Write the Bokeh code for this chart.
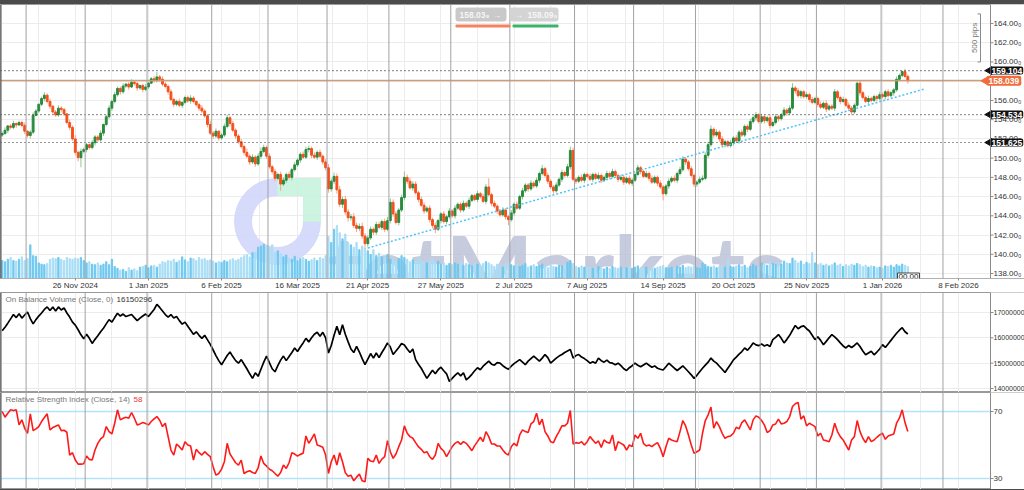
import numpy as np
from math import pi
from bokeh.plotting import figure
from bokeh.models import (ColumnDataSource, Range1d, FixedTicker, Span, Label,
                          BoxAnnotation, Spacer, Grid)
from bokeh.layouts import column
from bokeh.embed import file_html
from bokeh.resources import INLINE

# ---------------- data ----------------
start_date = "2024-10-21"          # first daily bar (business days only)
first_open = 152.40

closes = [
    152.55, 152.90, 153.35, 153.20, 153.60, 153.45, 153.70, 153.40, 152.80, 152.35,
    152.70, 154.45, 154.90, 155.60, 156.20, 156.55, 155.90, 155.40, 154.80, 154.50,
    155.20, 155.05, 154.60, 153.70, 153.20, 152.00, 150.60, 150.05, 150.70, 150.90,
    151.40, 151.10, 151.60, 152.20, 151.90, 152.60, 153.50, 154.30, 155.20, 155.90,
    156.60, 157.25, 156.90, 157.50, 157.70, 157.40, 157.90, 157.75, 157.30, 157.55,
    157.15, 157.40, 157.80, 158.25, 158.05, 158.45, 158.20, 157.70, 157.45, 156.90,
    156.10, 155.60, 155.90, 155.50, 155.80, 156.30, 155.95, 156.25, 155.90, 155.55,
    155.20, 154.90, 154.40, 153.50, 152.60, 152.30, 152.80, 152.10, 152.40, 153.30,
    154.20, 153.60, 152.90, 152.30, 151.70, 151.20, 150.60, 150.20, 149.60, 150.10,
    149.40, 150.20, 150.70, 151.10, 150.20, 149.10, 148.60, 147.90, 148.30, 147.30,
    147.70, 148.30, 148.00, 148.80, 149.30, 149.80, 150.40, 150.10, 150.90, 151.00,
    150.30, 150.10, 150.60, 150.20, 149.60, 149.00, 146.80, 147.60, 148.10, 146.70,
    145.20, 145.70, 144.40, 143.80, 143.90, 143.00, 142.70, 142.90, 141.90, 141.10,
    141.70, 142.60, 142.30, 143.10, 142.80, 143.40, 142.60, 143.50, 145.40, 144.20,
    143.30, 144.60, 145.90, 148.00, 147.60, 146.90, 147.30, 146.40, 145.70, 145.10,
    144.50, 144.80, 143.60, 143.00, 142.60, 143.50, 144.20, 143.40, 143.90, 144.50,
    144.00, 144.80, 145.20, 144.60, 145.30, 145.00, 145.60, 146.10, 145.70, 146.30,
    146.00, 145.50, 147.00, 146.20, 145.30, 145.00, 144.50, 144.10, 144.60, 143.90,
    143.60, 144.30, 145.20, 144.80, 146.00, 146.60, 147.20, 146.80, 147.40, 147.10,
    147.70, 148.40, 148.90, 148.20, 147.60, 147.00, 146.60, 147.20, 147.80, 148.50,
    148.20, 149.10, 150.80, 147.80, 147.60, 148.00, 147.70, 148.30, 148.10, 147.80,
    148.30, 147.90, 148.20, 147.70, 148.00, 148.40, 148.10, 148.60, 148.20, 147.80,
    148.00, 147.50, 147.90, 147.40, 147.70, 148.30, 149.00, 148.60, 148.10, 148.40,
    147.90, 147.50, 148.00, 147.40, 147.00, 146.30, 147.10, 147.60, 147.90, 147.70,
    148.40, 148.80, 149.90, 149.60, 148.90, 148.20, 147.30, 147.50, 147.80, 147.90,
    150.30, 151.40, 153.00, 152.40, 152.70, 152.00, 151.40, 151.70, 151.30, 151.60,
    152.10, 151.80, 152.70, 152.40, 153.30, 153.00, 153.80, 154.20, 154.50, 153.80,
    154.30, 153.90, 154.20, 153.40, 153.70, 154.30, 154.10, 154.50, 155.00, 154.70,
    155.20, 157.30, 157.00, 156.50, 156.90, 156.40, 156.60, 156.10, 155.80, 156.20,
    155.60, 155.30, 155.70, 155.10, 155.40, 155.20, 156.90, 156.30, 155.90, 156.10,
    155.50, 155.20, 154.80, 155.50, 157.80, 156.80, 156.30, 155.90, 156.20, 156.00,
    156.40, 156.20, 156.60, 156.40, 156.90, 156.50, 156.80, 157.10, 158.20, 158.60,
    159.00, 158.50, 158.04,
]

# upper / lower shadow lengths in tenths of a yen
wick_up = [
    2, 3, 1, 2, 3, 1, 2, 2, 3, 1,  2, 3, 2, 1, 2, 3, 2, 3, 1, 2,
    3, 2, 2, 1, 3, 2, 4, 2, 3, 2,  2, 1, 3, 2, 2, 3, 1, 2, 3, 2,
    3, 2, 2, 3, 1, 2, 3, 2, 2, 1,  2, 3, 1, 2, 3, 5, 2, 3, 2, 2,
    3, 2, 2, 3, 1, 2, 2, 3, 2, 1,  2, 3, 2, 2, 4, 2, 3, 1, 2, 3,
    3, 2, 3, 2, 2, 3, 2, 4, 2, 3,  2, 3, 4, 3, 2, 3, 2, 3, 2, 3,
    3, 2, 3, 2, 3, 2, 2, 3, 3, 3,  2, 3, 2, 3, 2, 3, 4, 3, 4, 3,
    4, 3, 4, 3, 3, 4, 3, 3, 4, 3,  3, 3, 2, 3, 3, 2, 3, 4, 4, 3,
    3, 2, 3, 6, 3, 4, 3, 3, 2, 3,  3, 2, 3, 2, 3, 2, 2, 3, 2, 3,
    2, 3, 2, 2, 3, 2, 3, 2, 2, 3,  2, 3, 3, 9, 2, 3, 2, 2, 3, 2,
    2, 3, 2, 3, 2, 3, 2, 2, 3, 2,  3, 2, 4, 2, 3, 2, 2, 3, 2, 3,
    2, 3, 4, 3, 2, 2, 3, 2, 2, 3,  2, 2, 3, 2, 2, 3, 2, 3, 2, 2,
    3, 2, 2, 3, 2, 2, 3, 2, 2, 3,  2, 3, 2, 2, 3, 2, 2, 3, 2, 3,
    2, 3, 3, 2, 2, 3, 2, 2, 3, 3,  3, 3, 4, 2, 3, 2, 3, 2, 2, 3,
    2, 3, 2, 3, 2, 2, 3, 2, 3, 2,  3, 2, 2, 3, 2, 3, 2, 2, 3, 2,
    3, 5, 2, 3, 2, 2, 3, 2, 3, 2,  2, 3, 2, 3, 2, 2, 3, 2, 2, 3,
    2, 3, 2, 2, 1, 3, 2, 2, 3, 2,  2, 2, 3, 2, 2, 3, 2, 2, 3, 2,
    1, 3, 2,
]
wick_dn = [
    2, 1, 3, 2, 2, 3, 1, 2, 3, 2,  3, 2, 1, 2, 2, 3, 2, 3, 2, 2,
    2, 3, 2, 2, 3, 2, 3, 4, 10, 2, 3, 2, 2, 3, 2, 2, 3, 2, 2, 3,
    2, 2, 3, 2, 2, 3, 1, 2, 3, 2,  3, 2, 2, 1, 2, 2, 3, 2, 2, 3,
    2, 3, 2, 2, 3, 2, 2, 3, 2, 2,  3, 2, 2, 3, 2, 3, 2, 3, 2, 2,
    2, 3, 2, 3, 2, 2, 3, 2, 3, 2,  3, 2, 3, 2, 3, 2, 3, 3, 2, 7,
    2, 3, 2, 3, 2, 2, 3, 2, 2, 3,  3, 2, 3, 2, 3, 3, 4, 3, 3, 4,
    3, 4, 3, 4, 3, 3, 4, 3, 3, 5,  3, 2, 3, 3, 2, 3, 3, 2, 3, 3,
    2, 3, 2, 3, 3, 2, 3, 2, 3, 2,  3, 2, 3, 3, 4, 2, 3, 2, 3, 2,
    2, 3, 2, 3, 2, 2, 3, 2, 2, 3,  2, 2, 3, 2, 3, 2, 3, 2, 2, 3,
    6, 2, 3, 2, 2, 3, 2, 3, 2, 2,  2, 3, 2, 2, 3, 2, 3, 2, 2, 3,
    2, 2, 3, 2, 3, 2, 2, 3, 2, 2,  3, 2, 2, 3, 2, 2, 3, 2, 2, 3,
    2, 3, 2, 2, 3, 2, 2, 3, 2, 2,  3, 2, 2, 3, 2, 7, 2, 3, 2, 2,
    3, 2, 2, 3, 2, 2, 3, 3, 2, 2,  2, 3, 2, 3, 2, 3, 2, 3, 2, 2,
    3, 2, 3, 2, 2, 3, 2, 2, 3, 2,  2, 3, 2, 3, 2, 2, 3, 2, 2, 3,
    2, 2, 3, 2, 3, 2, 2, 3, 2, 2,  3, 2, 2, 3, 2, 2, 3, 2, 3, 2,
    2, 3, 3, 2, 2, 3, 2, 2, 3, 2,  2, 3, 2, 2, 3, 2, 2, 3, 2, 2,
    2, 2, 3,
]

# tick volume, thousands
volume_k = [
    150, 140, 160, 175, 150, 145, 160, 180, 150, 165,
    280, 190, 185, 130, 120, 115, 125, 160, 170, 165,
    175, 160, 150, 175, 165, 160, 170, 165, 175, 150,
    130, 140, 120, 115, 130, 110, 120, 140, 115, 160,
    100, 85, 70, 75, 60, 90, 70, 80, 65, 95,
    100, 110, 90, 105, 110, 95, 120, 140, 135, 150,
    145, 160, 135, 150, 180, 155, 140, 170, 165, 150,
    175, 160, 165, 150, 155, 145, 130, 140, 135, 150,
    140, 155, 165, 150, 160, 175, 190, 200, 180, 215,
    220, 260, 270, 285, 270, 260, 280, 215, 230, 205,
    180, 195, 170, 160, 185, 150, 165, 175, 160, 145,
    155, 170, 150, 175, 165, 190, 350, 300, 410, 440,
    380, 330, 370, 300, 280, 260, 300, 240, 270, 250,
    230, 200, 240, 190, 210, 180, 175, 200, 160, 170,
    150, 165, 190, 175, 160, 140, 155, 145, 170, 150,
    140, 130, 150, 160, 135, 145, 120, 130, 110, 125,
    115, 130, 120, 140, 110, 125, 115, 105, 130, 120,
    110, 125, 140, 130, 115, 100, 120, 110, 95, 125,
    135, 115, 105, 120, 100, 110, 125, 95, 105, 115,
    100, 110, 120, 105, 90, 115, 100, 95, 110, 105,
    115, 135, 150, 125, 100, 90, 105, 95, 100, 90,
    85, 95, 100, 90, 80, 95, 85, 100, 90, 85,
    95, 80, 90, 100, 85, 95, 105, 90, 85, 95,
    80, 90, 85, 95, 100, 110, 90, 85, 95, 90,
    100, 95, 110, 90, 100, 95, 105, 90, 85, 130,
    115, 100, 95, 105, 90, 100, 110, 95, 160, 100,
    95, 105, 115, 100, 110, 90, 100, 120, 105, 95,
    130, 120, 110, 140, 125, 115, 135, 120, 145, 130,
    125, 170, 150, 130, 145, 120, 135, 125, 215, 130,
    115, 125, 110, 120, 105, 115, 130, 110, 120, 100,
    115, 105, 120, 110, 125, 115, 100, 110, 95, 105,
    100, 90, 95, 85, 105, 100, 110, 95, 115, 105,
    120, 110, 100,
]

# On Balance Volume, millions
obv_m = [
    16.28, 16.42, 16.58, 16.75, 16.92, 16.80, 16.95, 16.78, 16.90, 17.02,
    16.76, 16.55, 16.72, 16.86, 16.98, 17.12, 17.22, 17.08, 17.22, 17.06,
    17.22, 17.10, 17.18, 16.98, 16.82, 16.62, 16.50, 16.32, 16.12, 15.96,
    16.14, 15.98, 15.78, 15.94, 16.08, 16.24, 16.38, 16.55, 16.72, 16.62,
    16.80, 16.97, 16.86, 16.94, 16.84, 16.88, 16.92, 16.80, 16.68, 16.78,
    16.86, 16.94, 16.84, 16.98, 17.12, 17.32, 17.20, 17.06, 16.92, 16.82,
    16.92, 16.78, 16.84, 16.68, 16.54, 16.62, 16.46, 16.30, 16.14, 16.24,
    16.10, 15.98, 16.10, 15.92, 15.74, 15.52, 15.30, 15.10, 14.94, 15.12,
    15.30, 15.44, 15.26, 15.10, 15.00, 15.14, 14.96, 14.78, 14.58, 14.40,
    14.62, 14.48, 14.76, 15.04, 15.28, 15.02, 14.78, 14.66, 14.90, 15.12,
    15.28, 15.10, 15.26, 15.42, 15.60, 15.46, 15.64, 15.80, 15.98, 15.84,
    16.00, 16.14, 16.22, 16.06, 16.22, 16.00, 15.40, 15.70, 16.10, 16.46,
    16.12, 16.52, 16.14, 15.84, 15.56, 15.42, 15.66, 15.44, 15.18, 14.94,
    15.16, 15.38, 15.20, 15.40, 15.22, 15.42, 15.60, 15.80, 15.64, 15.34,
    15.48, 15.62, 15.78, 15.72, 15.56, 15.42, 15.56, 15.14, 14.96, 14.80,
    14.60, 14.40, 14.56, 14.72, 14.58, 14.74, 14.84, 14.70, 14.58, 14.28,
    14.40, 14.52, 14.62, 14.50, 14.62, 14.34, 14.44, 14.56, 14.70, 14.82,
    14.74, 14.88, 14.98, 15.08, 14.96, 14.92, 15.02, 15.00, 14.90, 14.82,
    14.76, 14.88, 14.98, 15.06, 15.14, 15.04, 14.94, 15.08, 15.18, 15.28,
    15.18, 15.08, 15.20, 15.34, 15.22, 15.00, 15.10, 15.20, 15.28, 15.34,
    15.42, 15.48, 15.54, 15.20, 15.30, 15.34, 15.24, 15.18, 15.10, 15.00,
    15.06, 15.00, 15.20, 15.10, 15.04, 15.12, 15.02, 15.00, 14.94, 15.00,
    14.90, 14.78, 14.71, 14.82, 14.90, 15.00, 14.92, 14.86, 14.93, 15.00,
    14.92, 14.84, 14.89, 14.80, 14.76, 14.73, 14.86, 15.00, 14.90, 14.80,
    14.71, 14.80, 14.89, 14.78, 14.66, 14.54, 14.40, 14.52, 14.66, 14.80,
    14.92, 15.04, 15.20, 15.08, 15.00, 14.88, 14.76, 14.63, 14.80, 14.96,
    15.13, 15.24, 15.36, 15.46, 15.60, 15.51, 15.64, 15.80, 15.72, 15.69,
    15.76, 15.68, 15.73, 15.66, 15.93, 16.02, 16.13, 15.98, 15.80, 15.94,
    16.10, 16.30, 16.49, 16.36, 16.44, 16.47, 16.36, 16.27, 16.10, 15.93,
    16.04, 15.90, 15.73, 15.86, 16.00, 16.13, 16.04, 15.93, 15.80, 15.68,
    15.60, 15.70, 15.62, 15.70, 15.80, 15.66, 15.48, 15.33, 15.40, 15.47,
    15.33, 15.44, 15.56, 15.73, 15.62, 15.76, 15.90, 16.04, 16.18, 16.30,
    16.40, 16.24, 16.150296,
]

# RSI(14)
rsi = [
    70.0, 66.6, 69.0, 71.0, 70.6, 71.0, 62.0, 65.0, 60.0, 57.0,
    68.6, 58.6, 59.6, 61.0, 64.0, 66.4, 68.6, 59.0, 60.4, 61.2,
    62.0, 58.6, 58.8, 57.6, 44.0, 45.4, 41.0, 38.6, 38.6, 38.8,
    43.4, 41.4, 41.0, 47.0, 51.0, 53.6, 55.0, 61.0, 58.0, 56.6,
    63.0, 71.0, 65.0, 66.0, 66.6, 66.0, 69.4, 66.0, 62.0, 62.6,
    63.4, 62.8, 62.0, 64.0, 65.6, 67.0, 64.8, 61.0, 63.0, 55.0,
    47.0, 44.0, 50.6, 49.0, 47.0, 52.0, 50.0, 49.4, 41.0, 47.4,
    45.4, 44.0, 46.0, 44.4, 43.0, 37.0, 32.0, 33.0, 35.6, 40.0,
    51.0, 44.6, 42.0, 39.4, 38.0, 41.0, 33.0, 34.0, 34.6, 33.6,
    33.0, 36.4, 43.4, 39.0, 37.4, 35.6, 34.6, 33.0, 31.4, 33.6,
    38.0, 36.0, 39.4, 45.4, 44.6, 43.4, 44.4, 45.0, 55.4, 51.0,
    53.6, 56.6, 50.0, 49.4, 48.6, 44.0, 33.0, 40.0, 44.0, 38.0,
    45.4, 40.0, 33.4, 31.4, 32.0, 28.6, 30.8, 32.6, 28.6, 28.0,
    42.0, 40.4, 40.0, 44.0, 39.0, 41.6, 43.0, 52.6, 46.0, 42.0,
    44.6, 49.0, 53.0, 61.4, 57.0, 55.0, 54.0, 51.4, 49.0, 47.4,
    45.4, 46.0, 43.0, 41.4, 44.0, 51.0, 48.0, 46.4, 43.0, 46.0,
    49.0, 51.0, 52.0, 50.4, 52.0, 51.0, 49.0, 46.6, 49.6, 52.0,
    54.6, 52.0, 58.0, 55.0, 50.6, 50.6, 49.4, 49.4, 47.0, 45.0,
    44.0, 49.0, 51.0, 49.4, 56.0, 59.0, 58.0, 57.4, 62.6, 64.0,
    69.0, 62.0, 65.4, 58.0, 55.4, 52.0, 51.4, 55.0, 58.0, 61.4,
    61.4, 63.0, 70.6, 50.6, 51.4, 51.0, 52.0, 50.0, 52.0, 55.0,
    53.0, 51.0, 52.4, 48.6, 53.0, 51.6, 51.0, 56.0, 46.6, 52.0,
    51.0, 50.0, 47.0, 50.0, 49.0, 56.0, 54.0, 57.0, 51.0, 49.4,
    50.0, 49.0, 50.4, 51.4, 48.0, 43.0, 49.0, 54.0, 53.0, 52.4,
    52.0, 58.0, 64.6, 61.4, 56.0, 50.0, 45.0, 46.0, 47.0, 57.0,
    64.6, 68.0, 72.6, 60.0, 64.0, 61.0, 57.0, 54.0, 55.0, 55.4,
    57.0, 60.6, 59.6, 63.4, 65.0, 62.0, 59.0, 65.0, 67.4, 66.6,
    64.6, 62.0, 57.4, 58.6, 62.0, 62.6, 65.4, 62.6, 63.0, 64.0,
    67.0, 73.0, 74.6, 75.4, 65.4, 67.4, 61.4, 63.0, 62.0, 61.0,
    55.4, 57.0, 53.0, 52.6, 52.0, 56.0, 63.0, 58.0, 55.0, 53.0,
    50.0, 47.0, 53.0, 55.0, 64.6, 58.0, 54.0, 51.4, 55.0, 52.0,
    53.0, 54.6, 56.0, 57.0, 53.4, 55.4, 56.0, 56.6, 63.0, 66.0,
    71.0, 63.4, 58.0,
]

tick_dates = ["2024-11-26", "2025-01-01", "2025-02-06", "2025-03-16", "2025-04-21",
              "2025-05-27", "2025-07-02", "2025-08-07", "2025-09-14", "2025-10-20",
              "2025-11-25", "2026-01-01", "2026-02-08"]
tick_labels = ["26 Nov 2024", "1 Jan 2025", "6 Feb 2025", "16 Mar 2025", "21 Apr 2025",
               "27 May 2025", "2 Jul 2025", "7 Aug 2025", "14 Sep 2025", "20 Oct 2025",
               "25 Nov 2025", "1 Jan 2026", "8 Feb 2026"]
month_starts = ["2024-11-01", "2024-12-01", "2025-01-01", "2025-02-01", "2025-03-01",
                "2025-04-01", "2025-05-01", "2025-06-01", "2025-07-01", "2025-08-01",
                "2025-09-01", "2025-10-01", "2025-11-01", "2025-12-01", "2026-01-01",
                "2026-02-01"]
price_ticks = [138, 140, 142, 144, 146, 148, 150, 152, 154, 156, 158, 160, 162, 164]
levels = [159.104, 154.534, 151.625]
bid_price, ask_price = 158.039, 158.09
bid_text, ask_text = "158.03\u2089", "158.09\u2080"
trend_dates = ["2025-04-21", "2026-01-22"]
trend_vals = [140.65, 157.20]
pips_ruler = [160.0, 165.0]
obv_ticks = [14000000, 15000000, 16000000, 17000000]
rsi_levels = [30, 70]
obv_title, obv_last = "On Balance Volume (Close, 0)", "16150296"
rsi_title, rsi_last = "Relative Strength Index (Close, 14)", "58"

# ---------------- derived ----------------
n = min(len(closes), len(wick_up), len(wick_dn), len(volume_k), len(obv_m), len(rsi))
closes = closes[:n]
xs = list(range(n))
opens = [first_open] + closes[:-1]
highs = [max(o, c) + u / 10 for o, c, u in zip(opens, closes, wick_up[:n])]
lows = [min(o, c) - d / 10 for o, c, d in zip(opens, closes, wick_dn[:n])]
is_up = [c >= o for o, c in zip(opens, closes)]
body_top = [max(o, c) + (0.03 if abs(o - c) < 0.03 else 0) for o, c in zip(opens, closes)]
body_bot = [min(o, c) for o, c in zip(opens, closes)]
UP, DN = "#2b8a3e", "#f4511e"
body_col = [UP if u else DN for u in is_up]
wick_col = [("#8cc79a" if u else "#f6a588") for u in is_up]
vol_col = [("#6fc8ef" if u else "#a9def6") for u in is_up]

src = ColumnDataSource(dict(x=xs, top=body_top, bot=body_bot, high=highs, low=lows,
                            bc=body_col, wc=wick_col, vol=volume_k[:n], vc=vol_col,
                            obv=[v * 1e6 for v in obv_m[:n]], rsi=rsi[:n]))

start = np.datetime64(start_date)
def bar_index(d):
    return int(np.busday_count(start, np.datetime64(d)))

tick_pos = [bar_index(d) for d in tick_dates]
month_pos = [bar_index(d) - 0.5 for d in month_starts]
half = (tick_pos[1] - tick_pos[0]) / 2
light_pos = [tick_pos[0] - half] + tick_pos + [(a + b) / 2 for a, b in zip(tick_pos[:-1], tick_pos[1:])]

# ---------------- layout constants ----------------
FONT = "Liberation Sans"
PW = 990          # width of the chart area (price scale to its right)
TW = 1024         # full width of each panel
X0 = -0.6
UNITS = 352.0     # bars spanned by the chart area
def sx(px):
    return X0 + px * UNITS / PW
xr = Range1d(X0, sx(TW))
AX = sx(PW)

def make_sy(top_py, fh, lo, hi):
    return lambda py: hi - (py - top_py) * (hi - lo) / fh

def make_fig(fh, lo, hi, yticks, fmt, lab_size="8px", xaxis=False, ygrid=True):
    f = figure(frame_width=TW, frame_height=fh, x_range=xr, y_range=Range1d(lo, hi),
               output_backend="svg", toolbar_location=None, y_axis_location="right",
               x_axis_location="below",
               min_border_left=0, min_border_right=0, min_border_top=0, min_border_bottom=0,
               outline_line_color="#9a9a9a", background_fill_color="white",
               border_fill_color="white")
    f.yaxis.visible = False
    if not xaxis:
        f.xaxis.visible = False
    f.xgrid.visible = False
    f.ygrid.visible = False
    f.add_layout(Grid(dimension=0, ticker=FixedTicker(ticks=light_pos),
                      grid_line_color="#ececec", grid_line_width=1))
    if ygrid:
        f.add_layout(Grid(dimension=1, ticker=FixedTicker(ticks=yticks),
                          grid_line_color="#ececec", grid_line_width=1))
    # white price-scale strip on the right (drawn over the grid)
    f.add_layout(BoxAnnotation(left=AX, right=sx(TW + 5), top=hi + (hi - lo), bottom=lo - (hi - lo),
                               fill_color="white", fill_alpha=1, line_color=None,
                               level="underlay"))
    for m in month_pos:
        f.add_layout(Span(location=m, dimension="height", line_color="#a2a2a2", line_width=1))
    f.add_layout(Span(location=X0, dimension="height", line_color="#505050", line_width=2))
    f.add_layout(Span(location=AX, dimension="height", line_color="#8a8a8a", line_width=1))
    f.segment(x0=[AX] * len(yticks), y0=yticks, x1=[sx(PW + 3)] * len(yticks), y1=yticks,
              line_color="#8a8a8a", line_width=1)
    for t in yticks:
        f.add_layout(Label(x=sx(PW + 3), y=t, text=fmt(t), text_font=FONT,
                           text_font_size=lab_size, text_color="#333333",
                           text_baseline="middle", text_align="left"))
    return f

# ---------------- main price panel ----------------
M_LO, M_HI = 137.48, 165.98
p = make_fig(274, M_LO, M_HI, price_ticks, lambda t: f"{t:.2f}\u2080", xaxis=True)
sy = make_sy(4, 274, M_LO, M_HI)
p.xaxis.ticker = FixedTicker(ticks=tick_pos)
p.xaxis.major_label_overrides = {t: l for t, l in zip(tick_pos, tick_labels)}
p.xaxis.major_label_text_font = FONT
p.xaxis.major_label_text_font_size = "8px"
p.xaxis.major_label_text_color = "#333333"
p.xaxis.axis_line_color = "#b0b0b0"
p.xaxis.major_tick_line_color = "#888888"
p.xaxis.major_tick_out = 2
p.xaxis.major_tick_in = 0
p.xaxis.minor_tick_line_color = None
p.xaxis.major_label_standoff = 0

# watermark
cx, cy = 277, 221
p.annular_wedge(x=[sx(cx)], y=[sy(cy)], inner_radius=26, outer_radius=43,
                inner_radius_units="screen", outer_radius_units="screen",
                start_angle=pi / 2, end_angle=2 * pi, color="#d2d7fb", alpha=0.9)
p.patch(x=[sx(cx), sx(cx + 43), sx(cx + 43), sx(cx + 26), sx(cx + 26), sx(cx)],
        y=[sy(cy - 43), sy(cy - 43), sy(cy), sy(cy), sy(cy - 26), sy(cy - 26)],
        color="#c6f3de", alpha=0.9)
p.add_layout(Label(x=sx(327), y=sy(267), text="tetMarkets", text_font="Lato",
                   text_font_size="93px", text_font_style="bold", text_color="#bcc3d7",
                   text_alpha=0.85, text_baseline="alphabetic", text_align="left",
                   level="underlay"))

# volume
p.extra_y_ranges = {"vol": Range1d(0, 2280)}
p.vbar(x="x", top="vol", bottom=0, width=0.45, color="vc", source=src, y_range_name="vol")

# candles
p.segment(x0="x", y0="low", x1="x", y1="high", color="wc", line_width=1, source=src)
p.vbar(x="x", top="top", bottom="bot", width=0.66, color="bc", source=src)

# trend line
p.line([bar_index(d) for d in trend_dates], trend_vals, line_color="#4fc3f7",
       line_width=1.5, line_dash="2 2")

# horizontal levels (stop at the price scale)
p.segment(x0=[X0] * len(levels), y0=levels, x1=[AX] * len(levels), y1=levels,
          line_color="#333333", line_width=1.2, line_dash="1 3")
p.segment(x0=[X0], y0=[ask_price], x1=[AX], y1=[ask_price], line_color="#5f9f5f", line_width=1)
p.segment(x0=[X0], y0=[bid_price], x1=[AX], y1=[bid_price], line_color="#f29a7c", line_width=1)

# 500 pips ruler
rx = sx(980)
p.line([rx, rx], pips_ruler, line_color="#8a8a8a", line_width=1)
p.segment(x0=[rx, rx], y0=pips_ruler, x1=[sx(977), sx(977)], y1=pips_ruler,
          line_color="#8a8a8a", line_width=1)
p.add_layout(Label(x=sx(974), y=sum(pips_ruler) / 2, text="500 pips", angle=pi / 2,
                   text_align="center", text_baseline="middle", text_font=FONT,
                   text_font_size="8px", text_color="#777777"))

# price boxes on the scale
p.scatter(x=[sx(989)] * len(levels), y=levels, marker="triangle", size=8, angle=pi / 2,
          color="#111111")
for lv in levels:
    p.add_layout(Label(x=sx(990), y=lv, text=f"{lv:.3f}", text_font=FONT,
                       text_font_size="8.5px", text_font_style="bold", text_color="white",
                       text_baseline="middle", background_fill_color="#111111",
                       padding=1, border_radius=2))
p.scatter(x=[sx(985)], y=[bid_price], marker="triangle", size=8, angle=pi / 2, color="#f26b3a")
p.add_layout(Label(x=sx(986), y=bid_price, text=f"{bid_price:.3f}", text_font=FONT,
                   text_font_size="8.5px", text_font_style="bold", text_color="white",
                   text_baseline="middle", background_fill_color="#f26b3a",
                   padding=2, border_radius=2))

# bid / ask buttons at top centre
p.add_layout(BoxAnnotation(left=sx(455), right=sx(506), top=sy(7), bottom=sy(21),
                           fill_color="#c9c9c9", fill_alpha=1, line_color=None, border_radius=3))
p.add_layout(BoxAnnotation(left=sx(509), right=sx(558), top=sy(7), bottom=sy(21),
                           fill_color="#d4d4d4", fill_alpha=1, line_color=None, border_radius=3))
p.add_layout(BoxAnnotation(left=sx(455), right=sx(510), top=sy(24), bottom=sy(27),
                           fill_color="#f4845f", fill_alpha=1, line_color=None, border_radius=1))
p.add_layout(BoxAnnotation(left=sx(512), right=sx(558), top=sy(24), bottom=sy(27),
                           fill_color="#3cb36b", fill_alpha=1, line_color=None, border_radius=1))
for px, t in [(459, bid_text), (492, "\u2192"), (514, "\u2192"), (527, ask_text)]:
    p.add_layout(Label(x=sx(px), y=sy(14), text=t, text_font=FONT, text_font_size="8.5px",
                       text_font_style="bold", text_color="#f6f6f6", text_baseline="middle"))

# countdown box
p.add_layout(Label(x=sx(897), y=sy(276), text="00.00", text_font=FONT, text_font_size="8px",
                   text_color="#222222", text_baseline="middle", background_fill_color="white",
                   border_line_color="#444444", padding=1))

# ---------------- OBV panel ----------------
O_LO, O_HI = 13.842e6, 17.79e6
q = make_fig(100, O_LO, O_HI, obv_ticks, lambda t: f"{t:d}", lab_size="7px")
syq = make_sy(290, 100, O_LO, O_HI)
q.line(x="x", y="obv", source=src, line_color="black", line_width=1.7)
q.add_layout(Label(x=sx(5), y=syq(297), text=obv_title, text_font=FONT, text_font_size="8px",
                   text_color="#777777", text_baseline="middle"))
q.add_layout(Label(x=sx(116), y=syq(297), text=obv_last, text_font=FONT, text_font_size="8px",
                   text_color="#333333", text_baseline="middle"))

# ---------------- RSI panel ----------------
R_LO, R_HI = 23.43, 81.34
r = make_fig(97, R_LO, R_HI, rsi_levels, lambda t: f"{t:d}", ygrid=False)
syr = make_sy(390, 97, R_LO, R_HI)
r.segment(x0=[X0] * 2, y0=rsi_levels, x1=[AX] * 2, y1=rsi_levels,
          line_color="#b3e3f7", line_width=1.5)
r.line(x="x", y="rsi", source=src, line_color="#ff1a1a", line_width=1.6)
r.add_layout(Label(x=sx(5), y=syr(397), text=rsi_title, text_font=FONT, text_font_size="8px",
                   text_color="#777777", text_baseline="middle"))
r.add_layout(Label(x=sx(133), y=syr(397), text=rsi_last, text_font=FONT, text_font_size="8px",
                   text_color="#e53935", text_baseline="middle"))

top_band = Spacer(width=TW, height=4, styles={"background-color": "#4b4b4b"})
bot_band = Spacer(width=TW, height=3, styles={"background-color": "#4b4b4b"})
layout = column(top_band, p, q, r, bot_band)

open("out.html", "w").write(file_html(layout, INLINE))
